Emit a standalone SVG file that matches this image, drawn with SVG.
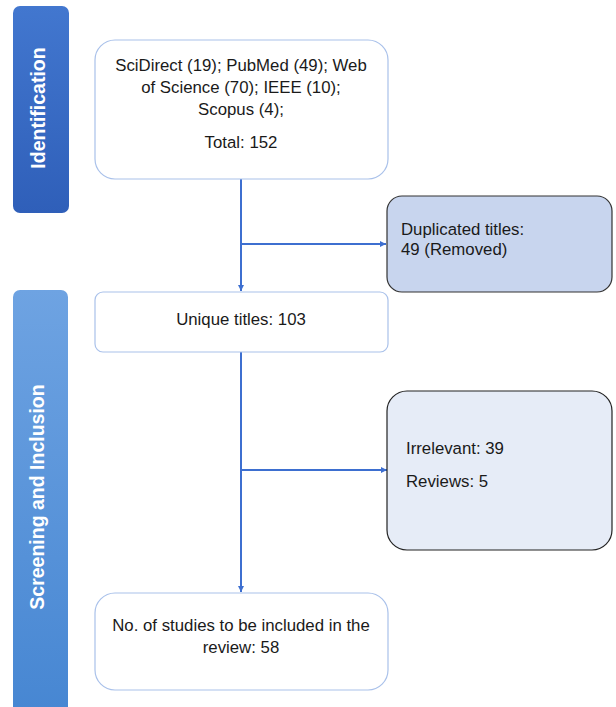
<svg xmlns="http://www.w3.org/2000/svg" width="616" height="707" viewBox="0 0 616 707">
<defs>
<linearGradient id="gId" x1="0" y1="0" x2="0" y2="1">
<stop offset="0" stop-color="#4277cf"/>
<stop offset="1" stop-color="#2f5fb9"/>
</linearGradient>
<linearGradient id="gSc" x1="0" y1="0" x2="0" y2="1">
<stop offset="0" stop-color="#6ea3e2"/>
<stop offset="1" stop-color="#4686d2"/>
</linearGradient>
<marker id="arr" viewBox="0 0 10 10" refX="10" refY="5" markerWidth="6" markerHeight="6" orient="auto" markerUnits="userSpaceOnUse">
<path d="M0,0 L10,5 L0,10 z" fill="#3d6fd0"/>
</marker>
<style>
.t{font-family:"Liberation Sans",Arial,sans-serif;font-size:16.8px;fill:#1a1a1a}
.c{text-anchor:middle}
.lbl{font-family:"Liberation Sans",Arial,sans-serif;font-size:19.5px;font-weight:bold;fill:#ffffff;text-anchor:middle}
.wb{fill:#ffffff;stroke:#a9c1ea;stroke-width:1.2}
.conn{stroke:#3d6fd0;stroke-width:2;fill:none}
</style>
</defs>
<g id="phase-identification">
<rect x="13" y="6" width="56" height="207" rx="7" fill="url(#gId)"/>
<text class="lbl" transform="translate(45,108) rotate(-90)">Identification</text>
</g>
<g id="phase-screening">
<rect x="13" y="290" width="55" height="430" rx="7" fill="url(#gSc)"/>
<text class="lbl" transform="translate(44,497) rotate(-90)">Screening and Inclusion</text>
</g>
<g id="connectors">
<line class="conn" x1="241" y1="179" x2="241" y2="291" marker-end="url(#arr)"/>
<line class="conn" x1="241" y1="244" x2="386" y2="244" marker-end="url(#arr)"/>
<line class="conn" x1="241" y1="352" x2="241" y2="592" marker-end="url(#arr)"/>
<line class="conn" x1="241" y1="470" x2="387" y2="470" marker-end="url(#arr)"/>
</g>
<g id="node-sources">
<rect class="wb" x="95" y="40" width="293" height="139" rx="20"/>
<text class="t c" x="241" y="71">SciDirect (19); PubMed (49); Web</text>
<text class="t c" x="241" y="93">of Science (70); IEEE (10);</text>
<text class="t c" x="241" y="115">Scopus (4);</text>
<text class="t c" x="241" y="148">Total: 152</text>
</g>
<g id="node-duplicates">
<rect x="387" y="196" width="225" height="96" rx="15" fill="#c8d5ee" stroke="#333333" stroke-width="1.2"/>
<text class="t" x="401" y="235">Duplicated titles:</text>
<text class="t" x="401" y="255">49 (Removed)</text>
</g>
<g id="node-unique">
<rect class="wb" x="95" y="292" width="293" height="60" rx="8"/>
<text class="t c" x="241" y="325">Unique titles: 103</text>
</g>
<g id="node-excluded">
<rect x="387" y="391" width="225" height="159" rx="20" fill="#e6ecf7" stroke="#222222" stroke-width="1.2"/>
<text class="t" x="406" y="454">Irrelevant: 39</text>
<text class="t" x="406" y="487">Reviews: 5</text>
</g>
<g id="node-included">
<rect class="wb" x="95" y="593" width="293" height="97" rx="20"/>
<text class="t c" x="241" y="631">No. of studies to be included in the</text>
<text class="t c" x="241" y="653">review: 58</text>
</g>
</svg>
